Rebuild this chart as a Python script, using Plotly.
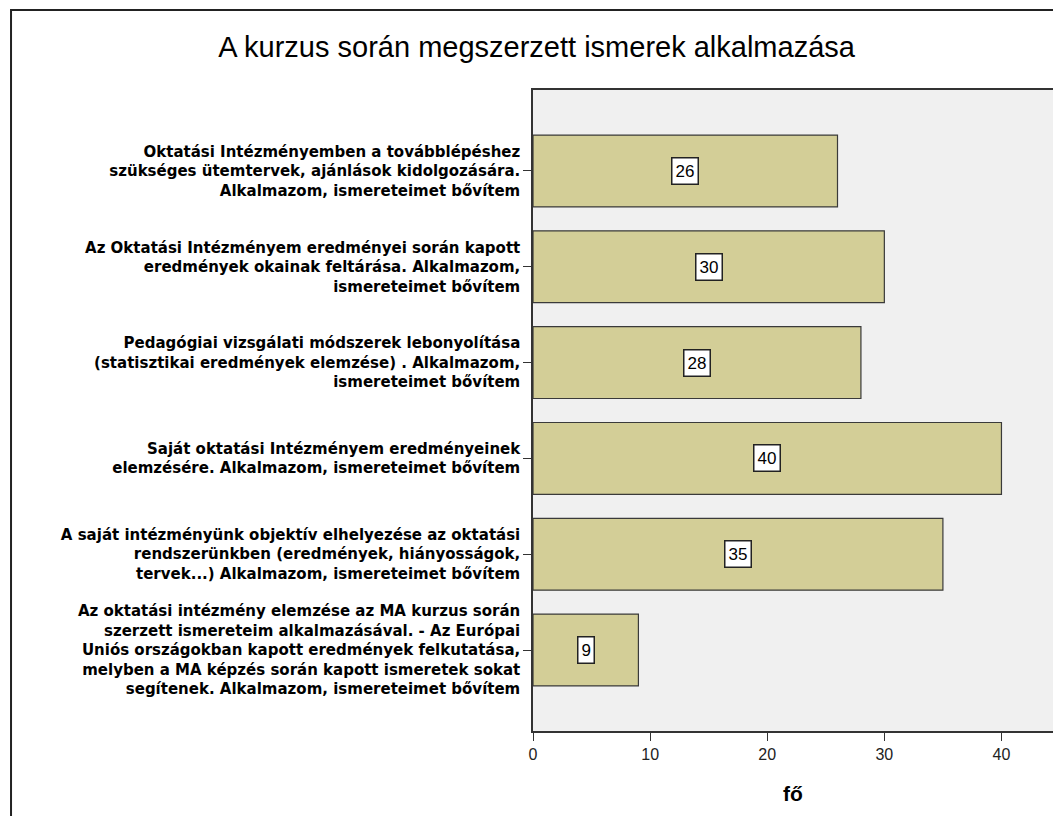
import plotly.graph_objects as go

title = "A kurzus során megszerzett ismerek alkalmazása"
categories = [
    "Oktatási Intézményemben a továbblépéshez<br>szükséges ütemtervek, ajánlások kidolgozására.<br>Alkalmazom, ismereteimet bővítem",
    "Az Oktatási Intézményem eredményei során kapott<br>eredmények okainak feltárása. Alkalmazom,<br>ismereteimet bővítem",
    "Pedagógiai vizsgálati módszerek lebonyolítása<br>(statisztikai eredmények elemzése) . Alkalmazom,<br>ismereteimet bővítem",
    "Saját oktatási Intézményem eredményeinek<br>elemzésére. Alkalmazom, ismereteimet bővítem",
    "A saját intézményünk objektív elhelyezése az oktatási<br>rendszerünkben (eredmények, hiányosságok,<br>tervek...) Alkalmazom, ismereteimet bővítem",
    "Az oktatási intézmény elemzése az MA kurzus során<br>szerzett ismereteim alkalmazásával. - Az Európai<br>Uniós országokban kapott eredmények felkutatása,<br>melyben a MA képzés során kapott ismeretek sokat<br>segítenek. Alkalmazom, ismereteimet bővítem",
]
values = [26, 30, 28, 40, 35, 9]
x_title = "fő"

pos = list(range(len(categories)))

fig = go.Figure(go.Bar(
    x=values, y=pos, orientation="h", width=0.75,
    marker=dict(color="#D3CE97", line=dict(color="#3a3a3a", width=1.2)),
    hoverinfo="x",
))

# value labels in white boxes at the middle of each bar
for p, v in zip(pos, values):
    fig.add_annotation(
        x=v / 2, y=p, text=str(v), showarrow=False,
        font=dict(family="Liberation Sans, Arial", size=17, color="black"),
        bgcolor="white", bordercolor="#222", borderwidth=1.5, borderpad=3,
    )

# outer frame (page has an 8px body margin, figure starts at 8,8)
fig.add_shape(type="rect", xref="paper", yref="paper",
              x0=-1.0038, x1=1.03, y0=-0.16, y1=1.1248,
              line=dict(color="#222", width=2))

fig.update_layout(
    width=1053, height=808,
    margin=dict(l=525, r=6, t=82, b=85),
    paper_bgcolor="white", plot_bgcolor="#F0F0F0",
    showlegend=False,
    title=dict(text=title, x=0.502, xanchor="center", y=0.952, yanchor="middle",
               font=dict(family="Liberation Sans, Arial", size=29, color="black")),
    xaxis=dict(range=[0, 44.4], tickvals=[0, 10, 20, 30, 40],
               ticks="outside", ticklen=8, tickcolor="#333",
               showgrid=False, zeroline=False,
               showline=True, linecolor="#333", linewidth=1.5, mirror=True,
               tickfont=dict(family="Liberation Sans, Arial", size=16, color="#222"),
               title=dict(text="<b>" + x_title + "</b>", standoff=24,
                          font=dict(family="Liberation Sans, Arial", size=21, color="black"))),
    yaxis=dict(range=[len(categories) - 1 + 0.845, -0.845],
               tickvals=pos, ticktext=["<b>" + c + "</b>" for c in categories],
               ticks="outside", ticklen=8, tickcolor="#333",
               showgrid=False, zeroline=False,
               showline=True, linecolor="#333", linewidth=1.5, mirror=True,
               tickfont=dict(family="DejaVu Sans", size=15, color="black")),
)

fig.write_html("out.html")
